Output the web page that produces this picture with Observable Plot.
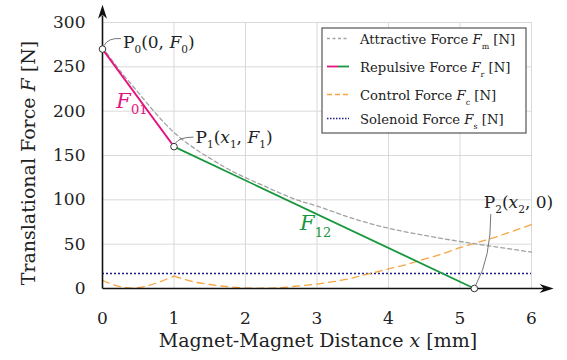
<!DOCTYPE html>
<html><head><meta charset="utf-8">
<script src="https://cdn.jsdelivr.net/npm/d3@7"></script>
<script src="https://cdn.jsdelivr.net/npm/@observablehq/plot@0.6"></script>
<style>
body{margin:0;background:#fff;}
#chart{width:567px;height:360px;}
</style></head><body><div id="chart"></div>
<script>
// ---- data ----
const attractX = [0,0.25,0.5,0.75,1,1.25,1.5,1.75,2,2.25,2.5,2.75,3,3.5,4,4.5,5,5.5,6];
const attractF = [272,245,221,197,176,160,147,135,125,116,107,99,93,79,68,60,53,47,41];
const repulsiveX = [0,1,5.2];
const repulsiveF = [270,160,0];
const controlX = [0,0.2,0.4,0.6,0.8,1,1.25,1.5,1.75,2,2.25,2.5,2.75,3,3.25,3.5,3.75,4,4.25,4.5,4.75,5,5.25,5.5,5.75,6];
const controlF = [9,3,0.5,2.5,7.5,14,8,4.5,2,0.5,0.3,1,3,5,8,12,17,22,27,33,39,46,52,58,65,72];
const solenoidF = 17;
const xTicks = [0,1,2,3,4,5,6];
const yTicks = [0,50,100,150,200,250,300];
const xAxisEnd = 6.31, yAxisEnd = 320;

const C = {attract:"#a3a3a3", r01:"#e5137f", r12:"#17963c", control:"#f7a540", solenoid:"#1c1c8c"};
const FONT = "'DejaVu Serif', serif";

const attract = attractX.map((x,i)=>({x, F:attractF[i]}));
const control = controlX.map((x,i)=>({x, F:controlF[i]}));
const control1 = control.filter(d=>d.x<=1);
const control2 = control.filter(d=>d.x>=1);
const seg01 = [{x:repulsiveX[0],F:repulsiveF[0]},{x:repulsiveX[1],F:repulsiveF[1]}];
const seg12 = [{x:repulsiveX[1],F:repulsiveF[1]},{x:repulsiveX[2],F:repulsiveF[2]}];
const points = repulsiveX.map((x,i)=>({x, F:repulsiveF[i]}));

const headRight = {draw(ctx){ctx.moveTo(0,0);ctx.lineTo(-14,-4.5);ctx.lineTo(-10,0);ctx.lineTo(-14,4.5);ctx.closePath();}};
const headUp = {draw(ctx){ctx.moveTo(0,0);ctx.lineTo(-4.5,14);ctx.lineTo(0,10);ctx.lineTo(4.5,14);ctx.closePath();}};

const TICK = 17;
const plot = Plot.plot({
  width:567, height:360,
  marginLeft:102, marginRight:36, marginTop:22, marginBottom:72,
  style:{fontFamily:FONT, fontSize:TICK+"px", color:"#222", background:"white", overflow:"visible"},
  x:{domain:[0,6]},
  y:{domain:[0,300]},
  marks:[
    Plot.gridX(xTicks.filter(d=>d>0), {stroke:"#d9d9d9", strokeOpacity:1}),
    Plot.gridY(yTicks.filter(d=>d>0), {stroke:"#d9d9d9", strokeOpacity:1}),
    Plot.axisX(xTicks, {tickSize:0, tickPadding:23, fontSize:TICK, label:null}),
    Plot.axisY(yTicks, {tickSize:0, tickPadding:17, fontSize:TICK, label:null}),
    Plot.ruleY([solenoidF], {stroke:C.solenoid, strokeWidth:1.5, strokeDasharray:"2,2"}),
    Plot.line(control1, {x:"x", y:"F", stroke:C.control, strokeWidth:1.3, strokeDasharray:"7,5", curve:"catmull-rom"}),
    Plot.line(control2, {x:"x", y:"F", stroke:C.control, strokeWidth:1.3, strokeDasharray:"7,5", curve:"catmull-rom"}),
    Plot.line(attract, {x:"x", y:"F", stroke:C.attract, strokeWidth:1.3, strokeDasharray:"4,3", curve:"catmull-rom"}),
    Plot.line(seg01, {x:"x", y:"F", stroke:C.r01, strokeWidth:1.8}),
    Plot.line(seg12, {x:"x", y:"F", stroke:C.r12, strokeWidth:1.8}),
    Plot.link([{x1:0,y1:0,x2:xAxisEnd-0.12,y2:0},{x1:0,y1:0,x2:0,y2:yAxisEnd-12}], {x1:"x1",y1:"y1",x2:"x2",y2:"y2", stroke:"#111", strokeWidth:1.6}),
    Plot.dot([{x:xAxisEnd,y:0}], {x:"x", y:"y", symbol:headRight, fill:"#111", stroke:"none"}),
    Plot.dot([{x:0,y:yAxisEnd}], {x:"x", y:"y", symbol:headUp, fill:"#111", stroke:"none"}),
    Plot.dot(points, {x:"x", y:"F", r:3.3, fill:"white", stroke:"#333", strokeWidth:1})
  ]
});
document.getElementById("chart").appendChild(plot);

const svg = d3.select(plot);
const sx = v => plot.scale("x").apply(v);
const sy = v => plot.scale("y").apply(v);

function rich(g, x, y, parts, opt={}) {
  const size = opt.size||17;
  const t = g.append("text").attr("x", x).attr("y", y)
    .attr("font-family", FONT).attr("font-size", size)
    .attr("fill", opt.fill||"#222").attr("text-anchor", opt.anchor||"start");
  if (opt.rotate) t.attr("transform", `rotate(${opt.rotate},${x},${y})`);
  let shift = 0;
  for (const [s, st] of parts) {
    const sp = t.append("tspan").text(s);
    const sub = !!st && st.includes("sub");
    const target = sub ? size*(opt.subShift||0.3) : 0;
    if (target !== shift) { sp.attr("dy", target - shift); shift = target; }
    if (sub) sp.attr("font-size", size*(opt.subScale||0.62));
    if (st && st.split(",").includes("i")) sp.attr("font-style", "italic");
  }
  return t;
}

const ann = svg.append("g");
const lead = (x0,y0,cx,cy,x1,y1) => ann.append("path")
  .attr("d", `M${x0},${y0}Q${cx},${cy} ${x1},${y1}`).attr("fill","none").attr("stroke","#666").attr("stroke-width",0.9);
{
  const px=sx(0), py=sy(270);
  lead(px+2,py-3, px+6,py-11, px+19,py-10);
  rich(ann, px+21, py-1, [["P"],["0","sub"],["(0, "],["F","i"],["0","sub"],[")"]]);
}
{
  const px=sx(1), py=sy(160);
  lead(px+2,py-3, px+6,py-9, px+20,py-9);
  rich(ann, px+22, py-3, [["P"],["1","sub"],["("],["x","i"],["1","sub"],[", "],["F","i"],["1","sub"],[")"]]);
}
{
  const px=sx(5.2), py=sy(0);
  lead(px+2,py-3, px+17,py-30, px+17,py-74);
  rich(ann, px+10, py-80, [["P"],["2","sub"],["("],["x","i"],["2","sub"],[", 0)"]]);
}
rich(ann, sx(0.2), sy(203), [["F","i"],["01","sub"]], {size:21, fill:C.r01});
rich(ann, sx(2.77), sy(65), [["F","i"],["12","sub"]], {size:21, fill:C.r12});

// axis titles
rich(ann, sx(3.02), 347, [["Magnet-Magnet Distance "],["x","i"],[" [mm]"]], {size:19, anchor:"middle"});
rich(ann, 35, 163, [["Translational Force "],["F","i"],[" [N]"]], {size:19, anchor:"middle", rotate:-90});

// legend
const lg = svg.append("g");
const L = {x:322, y:28, w:204, h:105};
lg.append("rect").attr("x",L.x).attr("y",L.y).attr("width",L.w).attr("height",L.h)
  .attr("fill","white").attr("stroke","#555").attr("stroke-width",1.2);
const rows = [
  {label:"Attractive Force ", sub:"m", cy:38.5, draw:(g,y)=>g.append("line").attr("x1",327).attr("x2",349).attr("y1",y).attr("y2",y).attr("stroke",C.attract).attr("stroke-width",1.3).attr("stroke-dasharray","3,2.5")},
  {label:"Repulsive Force ", sub:"r", cy:66.5, draw:(g,y)=>{g.append("line").attr("x1",327).attr("x2",338).attr("y1",y).attr("y2",y).attr("stroke",C.r01).attr("stroke-width",1.8);g.append("line").attr("x1",338).attr("x2",349).attr("y1",y).attr("y2",y).attr("stroke",C.r12).attr("stroke-width",1.8);}},
  {label:"Control Force ", sub:"c", cy:94.5, draw:(g,y)=>g.append("line").attr("x1",327).attr("x2",349).attr("y1",y).attr("y2",y).attr("stroke",C.control).attr("stroke-width",1.3).attr("stroke-dasharray","5,3")},
  {label:"Solenoid Force ", sub:"s", cy:118.5, draw:(g,y)=>g.append("line").attr("x1",327).attr("x2",349).attr("y1",y).attr("y2",y).attr("stroke",C.solenoid).attr("stroke-width",1.4).attr("stroke-dasharray","1.5,1.5")}
];
for (const r of rows) {
  r.draw(lg, r.cy);
  rich(lg, 360, r.cy+5, [[r.label],["F","i"],[r.sub,"sub"],[" [N]"]], {size:13.2, subScale:0.6, subShift:0.4});
}
</script></body></html>
